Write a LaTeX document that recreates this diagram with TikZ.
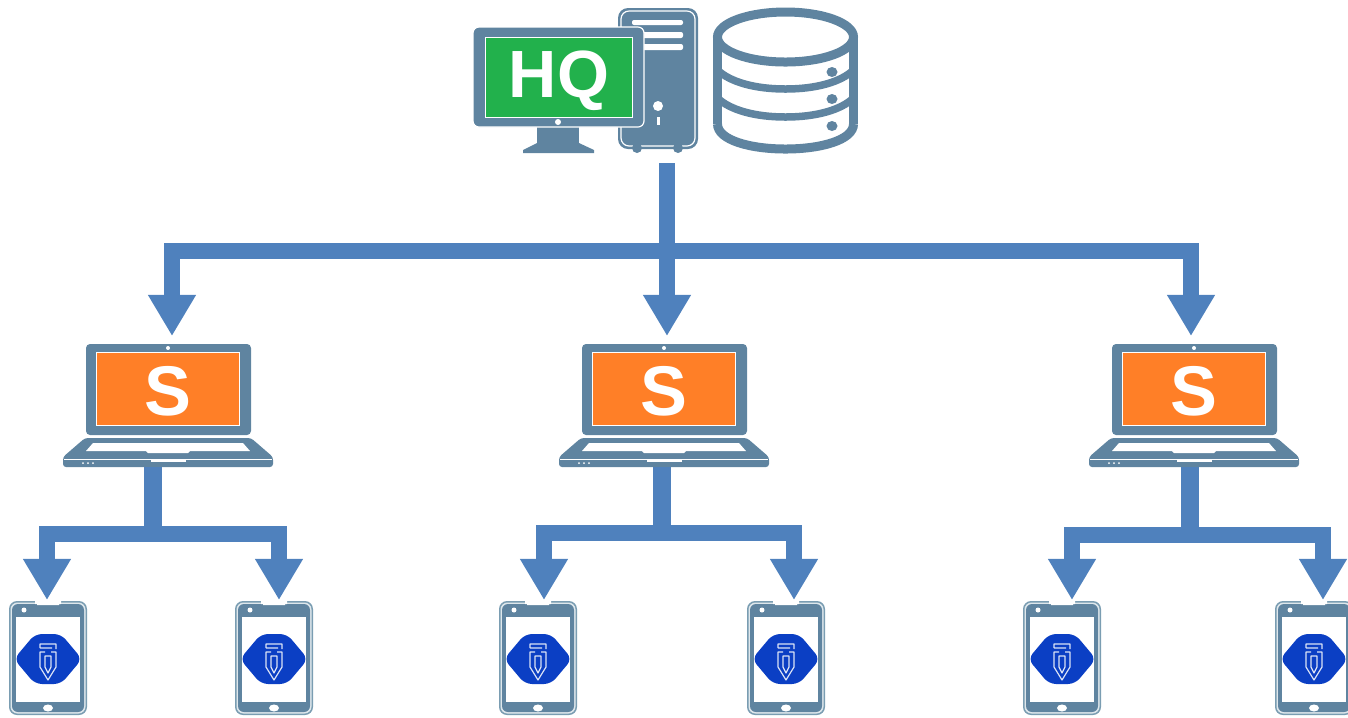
\documentclass[tikz,border=0pt]{standalone}
\usepackage{fontspec}
\setmainfont{Liberation Sans}
\usetikzlibrary{arrows.meta}
\definecolor{slate}{HTML}{5F84A0}
\definecolor{phoneslate}{HTML}{7A9DB2}
\definecolor{flowblue}{HTML}{4F81BD}
\definecolor{hqgreen}{HTML}{22B14C}
\definecolor{sorange}{HTML}{FF7F27}
\definecolor{eyeblue}{HTML}{0B3FC4}
\tikzset{
  flow/.style={draw=flowblue, line width=0.155cm, -{Triangle[width=0.45cm, length=0.41cm]}},
  stem/.style={draw=flowblue, line width=0.18cm},
  sletter/.style={text=white, font=\bfseries\fontsize{20}{20}\selectfont, inner sep=0pt},
  hqletter/.style={text=white, font=\bfseries\fontsize{19}{19}\selectfont, inner sep=0pt},
  laptop/.pic={
    % Pantalla
    \fill[slate, rounded corners=0.04cm] (-82,-56) rectangle (83,35);
    \fill[white] (-72,-48) rectangle (72,26);
    \fill[sorange] (-71,-47) rectangle (71,25);
    \fill[white] (0,-52) circle (2);
    \node[sletter] (-label) at (0,-9) {S};
    % Base
    \fill[slate, rounded corners=0.03cm] (-83,38) -- (83,38) -- (105,57) -- (105,67) -- (-105,67) -- (-105,57) -- cycle;
    \fill[white] (-75,43) -- (75,43) -- (82,51) -- (22,51) -- (20,53) -- (-20,53) -- (-22,51) -- (-82,51) -- cycle;
    \draw[white, line width=0.01cm] (-104,59) -- (104,59);
    \fill[white] (-17,60) rectangle (18,62);
    \foreach \dotx in {-85,-80,-75} \fill[white] (\dotx,63) circle (1);
  },
  phone/.pic={
    % Cuerpo
    \fill[phoneslate, rounded corners=0.08cm] (-39,-58) rectangle (39,56);
    \fill[white!75!phoneslate, rounded corners=0.07cm] (-37.5,-56.5) rectangle (37.5,54.5);
    \fill[slate, rounded corners=0.06cm] (-36,-55) rectangle (36,53);
    \fill[white] (-32,-42) rectangle (32,43);
    \fill[white] (-13,-58) rectangle (13,-55) (-11,-55) rectangle (11,-54);
    \fill[white] (-24,-49) circle (2.5);
    \fill[white] (0,49) ellipse (5 and 3.5);
    % Logo
    \fill[eyeblue, rounded corners=0.07cm] (-34,0) -- (-13,-25) -- (13,-25) -- (34,0) -- (13,25) -- (-13,25) -- cycle;
    \draw[white!85!eyeblue, line width=0.012cm, line join=round]
      (-8,-11) -- (-8,-15) -- (8,-15) -- (8,-10) (-8,-11) -- (4,-11)
      (3,-7) -- (8,-7) -- (8,8) -- (0,21) -- (-8,8) -- (-8,-7) -- (-3,-7)
      (-3,-3) -- (3,-3) -- (3,8) -- (0,14) -- (-3,8) -- cycle;
  }
}

\begin{document}
\begin{tikzpicture}[x=0.01cm, y=-0.01cm]
    \useasboundingbox (0,0) rectangle (1348,717);
    \clip (0,0) rectangle (1348,717);

    % Torre
    \fill[slate, rounded corners=0.1cm] (618,8) rectangle (698,149);
    \draw[white, line width=0.012cm, rounded corners=0.08cm] (621,11) rectangle (695,146);
    \fill[slate] (637,148) circle (5) (678,148) circle (5);
    \fill[white, rounded corners=0.02cm] (632,20) rectangle (683,25);
    \fill[white, rounded corners=0.02cm] (632,32) rectangle (683,38);
    \fill[white, rounded corners=0.02cm] (632,44) rectangle (683,50);
    \fill[white] (658,106) circle (5);
    \fill[white] (656.5,117) rectangle (659.5,125);

    % Monitor
    \fill[slate] (537,125) rectangle (579,143);
    \fill[slate] (537,143) -- (579,143) -- (594,150) -- (594,153) -- (523,153) -- (523,150) -- cycle;
    \filldraw[fill=slate, draw=white, line width=0.012cm, rounded corners=0.06cm] (473,27) rectangle (644,127);
    \fill[white] (485,37) rectangle (633,118);
    \fill[hqgreen] (486,38) rectangle (632,117);
    \fill[white] (558,122) circle (3);
    \node[hqletter] (hq) at (559,81) {HQ};

    % Base de datos
    \draw[slate, line width=0.09cm] (717.5,37) -- (717.5,124) (853.5,37) -- (853.5,124);
    \draw[slate, line width=0.09cm] (717.5,124) .. controls (717.5,140) and (750,149) .. (785.5,149) .. controls (821,149) and (853.5,140) .. (853.5,124);
    \draw[slate, line width=0.09cm] (785.5,37) ellipse (68 and 25);
    \draw[slate, line width=0.075cm] (717.5,70) .. controls (730,82) and (755,89) .. (785.5,89) .. controls (816,89) and (841,82) .. (853.5,70);
    \draw[slate, line width=0.075cm] (717.5,98) .. controls (730,110) and (755,117) .. (785.5,117) .. controls (816,117) and (841,110) .. (853.5,98);
    \fill[slate] (832,72) ellipse (5.5 and 5);
    \fill[slate] (832,99) ellipse (5.5 and 5);
    \fill[slate] (832,126) ellipse (5.5 and 5);

    % Equipos
    \pic (sa) at (168,400) {laptop};
    \pic (sb) at (664,400) {laptop};
    \pic (sc) at (1194,400) {laptop};
    \pic (pa) at (48,659) {phone};
    \pic (pb) at (274,659) {phone};
    \pic (pc) at (538,659) {phone};
    \pic (pd) at (786,659) {phone};
    \pic (pe) at (1062,659) {phone};
    \pic (pf) at (1314,659) {phone};

    % Puntos de union
    \coordinate (hqout) at (667,163);
    \coordinate (hqbus) at (667,251);
    \coordinate (sain) at (172,336);
    \coordinate (sbin) at (667,336);
    \coordinate (scin) at (1191,336);
    \coordinate (saout) at (153,467);
    \coordinate (sbout) at (662,467);
    \coordinate (scout) at (1190,467);
    \coordinate (sabus) at (153,534);
    \coordinate (sbbus) at (662,533);
    \coordinate (scbus) at (1190,535);
    \coordinate (pain) at (47,600);
    \coordinate (pbin) at (279,600);
    \coordinate (pcin) at (544,600);
    \coordinate (pdin) at (794,600);
    \coordinate (pein) at (1072,600);
    \coordinate (pfin) at (1323,600);

    % Flechas
    \draw[flow] (hqout) -- (sbin);
    \draw[flow] (hqbus) -| (sain);
    \draw[flow] (hqbus) -| (scin);

    \draw[stem] (saout) -- (sabus);
    \draw[flow] (sabus) -| (pain);
    \draw[flow] (sabus) -| (pbin);

    \draw[stem] (sbout) -- (sbbus);
    \draw[flow] (sbbus) -| (pcin);
    \draw[flow] (sbbus) -| (pdin);

    \draw[stem] (scout) -- (scbus);
    \draw[flow] (scbus) -| (pein);
    \draw[flow] (scbus) -| (pfin);

  \end{tikzpicture}
\end{document}
